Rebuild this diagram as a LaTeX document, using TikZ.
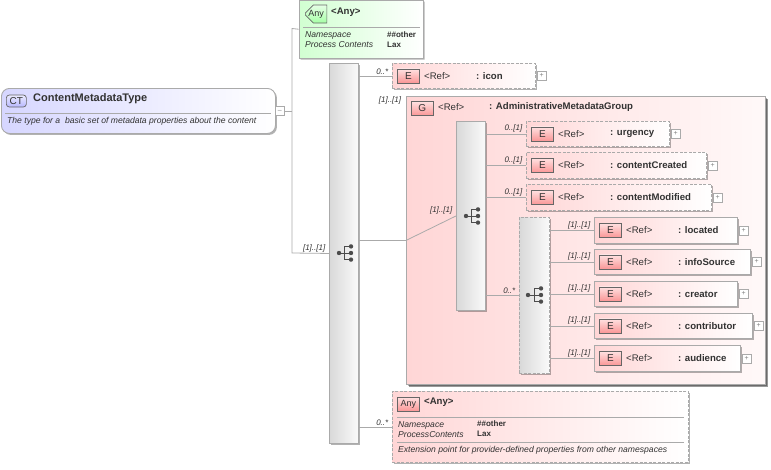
\documentclass[tikz,border=0pt]{standalone}
\usepackage{fontspec}
\setmainfont{Liberation Sans}
\usetikzlibrary{positioning,shadows,shapes.misc}

\newcommand{\Small}{\fontsize{8.6}{10}\selectfont}
\newcommand{\Tiny}{\fontsize{8}{9}\selectfont}
\newcommand{\Head}{\fontsize{9.6}{11}\selectfont}

\definecolor{textgray}{RGB}{50,50,50}
\definecolor{linegray}{RGB}{170,170,170}
\definecolor{pinkbox}{RGB}{255,214,214}
\definecolor{pinkicon}{RGB}{250,150,150}

\tikzset{
  conn/.style={draw=linegray, line width=0.8pt},
  boxshadow/.style={drop shadow={shadow xshift=1.5pt, shadow yshift=-1.5pt, fill=black, opacity=0.3}},
  plainbox/.style={draw=linegray, line width=0.9pt, inner sep=0pt, anchor=north west, boxshadow},
  elembox/.style={plainbox, left color=pinkbox, right color=white},
  optbox/.style={elembox, dashed, dash pattern=on 3pt off 1.5pt},
  seqbox/.style={plainbox, left color=gray!30, right color=gray!4},
  txt/.style={inner sep=0pt, anchor=west, text=textgray},
  iconbox/.style={draw=black!60, line width=0.7pt, inner sep=0pt, anchor=west, top color=red!12, bottom color=pinkicon, text=textgray, font=\fontsize{10}{11}\selectfont, minimum width=22pt, minimum height=14pt},
  multlabel/.style={inner sep=0pt, text=textgray, font=\Tiny\itshape},
  togglebox/.style={draw=linegray, fill=white, line width=0.6pt, inner sep=0pt, minimum size=9pt, anchor=west, text=gray, font=\fontsize{7}{7}\selectfont},
  seqdot/.style={circle, fill=black!70, inner sep=0pt, minimum size=4.4pt},
}

% #1 style, #2 name, #3 x, #4 y, #5 width, #6 height, #7 label, #8 multiplicity
\newcommand{\ElemBox}[8]{
  \node[#1, minimum width=#5pt, minimum height=#6pt] (#2) at (#3,#4) {};
  \node[iconbox, right=5pt of #2.west] (#2Icon) {E};
  \node[txt, font=\Head] (#2Ref) at ([xshift=32pt]#2.west) {<Ref>};
  \node[txt, font=\Head\bfseries] (#2Name) at ([xshift=84pt]#2.west) {: #7};
  \node[togglebox, right=1pt of #2.east] (#2Plus) {+};
  \node[multlabel, above left=1.5pt and 3.5pt of #2.west] (#2Mult) {#8};
}
% #1 name, #2 first dot x, #3 y, #4 last dot x
\newcommand{\SeqIcon}[4]{
  \node[seqdot] (#1In) at (#2,#3) {};
  \node[seqdot] (#1Mid) at (#4,#3) {};
  \node[seqdot, above=1.8pt of #1Mid] (#1Up) {};
  \node[seqdot, below=1.8pt of #1Mid] (#1Dn) {};
  \coordinate (#1Bar) at (#4-6.5,#3);
  \draw[black!70, line width=0.8pt] (#1In) -- (#1Mid) (#1Up) -| (#1Bar) (#1Dn) -| (#1Bar);
}

\begin{document}
\begin{tikzpicture}[x=1pt,y=-1pt]
\useasboundingbox (0,0) rectangle (771,469);

% complex type
\node[plainbox, rounded corners=8pt, left color=blue!16, right color=white, minimum width=274pt, minimum height=45pt] (ctBox) at (1,88) {};
\node[iconbox, rounded corners=3pt, top color=blue!8, bottom color=blue!28, minimum width=20pt, minimum height=12pt] (ctIcon) at (6,101) {CT};
\node[txt, font=\fontsize{11}{13}\selectfont\bfseries] (ctName) at (33,99) {ContentMetadataType};
\draw[conn] (5,113) -- (271,113);
\node[txt, font=\Small\itshape] (ctDesc) at (7,121) {The type for a\ \ basic set of metadata properties about the content};
\node[togglebox] (ctMinus) at (275,111) {--};

% any on top
\node[plainbox, chamfered rectangle, chamfered rectangle xsep=5pt, chamfered rectangle ysep=5pt, left color=green!18, right color=white, minimum width=124pt, minimum height=58pt, anchor=north west] (anyTop) at (299,0) {};
\node[iconbox, chamfered rectangle, chamfered rectangle xsep=3pt, chamfered rectangle ysep=5pt, chamfered rectangle corners={north west,south west}, top color=green!10, bottom color=green!35, minimum width=20pt, minimum height=12pt, font=\fontsize{9}{10}\selectfont] (anyTopIcon) at (305,14) {Any};
\node[txt, font=\Head\bfseries] (anyTopName) at (331,12) {<Any>};
\draw[conn] (303,27) -- (420,27);
\node[txt, font=\Small\itshape] (anyTopNs) at (305,35) {Namespace};
\node[txt, font=\Small\itshape] (anyTopPc) at (305,45) {Process Contents};
\node[txt, font=\Tiny\bfseries] (anyTopNsVal) at (387,35) {\#\#other};
\node[txt, font=\Tiny\bfseries] (anyTopPcVal) at (387,45) {Lax};

% outer sequence
\node[seqbox, minimum width=29pt, minimum height=380pt] (seqA) at (329,63) {};
\SeqIcon{iconA}{339}{253}{351}

\ElemBox{optbox}{elIcon}{392}{63}{143}{25}{icon}{0..*}

% group
\node[plainbox, left color=pinkbox, right color=pinkbox!15, minimum width=359pt, minimum height=288pt, drop shadow={shadow xshift=2.5pt, shadow yshift=-2.5pt, fill=black, opacity=0.4}] (grp) at (406,96) {};
\node[iconbox, right=5pt of grp.north west, yshift=-12.5pt] (grpIcon) {G};
\node[txt, font=\Head] (grpRef) at (438,107) {<Ref>};
\node[txt, font=\Head\bfseries] (grpName) at (489,107) {: AdministrativeMetadataGroup};
\node[multlabel] (grpMult) at (390,100) {[1]..[1]};

\node[seqbox, minimum width=29pt, minimum height=189pt] (seqB) at (456,121) {};
\SeqIcon{iconB}{466}{216}{478}
\node[multlabel, above left=1.5pt and 3.5pt of seqB.west] (seqBMult) {[1]..[1]};

\ElemBox{optbox}{elUrgency}{526}{121}{143}{25}{urgency}{0..[1]}
\ElemBox{optbox}{elCreated}{526}{152}{180}{26}{contentCreated}{0..[1]}
\ElemBox{optbox}{elModified}{526}{184}{185}{26}{contentModified}{0..[1]}

\node[seqbox, dashed, dash pattern=on 3pt off 1.5pt, minimum width=30pt, minimum height=156pt] (seqC) at (519,217) {};
\SeqIcon{iconC}{528}{295}{541}
\node[multlabel, above left=1.5pt and 3.5pt of seqC.west] (seqCMult) {0..*};

\ElemBox{elembox}{elLocated}{594}{217}{143}{26}{located}{[1]..[1]}
\ElemBox{elembox}{elInfo}{594}{249}{156}{25}{infoSource}{[1]..[1]}
\ElemBox{elembox}{elCreator}{594}{281}{143}{25}{creator}{[1]..[1]}
\ElemBox{elembox}{elContrib}{594}{313}{158}{25}{contributor}{[1]..[1]}
\ElemBox{elembox}{elAudience}{594}{345}{146}{26}{audience}{[1]..[1]}

% any at the bottom
\node[optbox, minimum width=296pt, minimum height=71pt] (anyBot) at (392,391) {};
\node[iconbox, minimum width=22pt, minimum height=14pt, font=\fontsize{9}{10}\selectfont] (anyBotIcon) at (397,404) {Any};
\node[txt, font=\Head\bfseries] (anyBotName) at (424,402) {<Any>};
\draw[conn] (397,417) -- (684,417);
\node[txt, font=\Small\itshape] (anyBotNs) at (398,425) {Namespace};
\node[txt, font=\Small\itshape] (anyBotPc) at (398,435) {ProcessContents};
\node[txt, font=\Tiny\bfseries] (anyBotNsVal) at (477,424) {\#\#other};
\node[txt, font=\Tiny\bfseries] (anyBotPcVal) at (477,434) {Lax};
\draw[conn] (397,442) -- (684,442);
\node[txt, font=\Small\itshape] (anyBotDesc) at (398,450) {Extension point for provider-defined properties from other namespaces};
\node[multlabel, above left=1.5pt and 3.5pt of anyBot.west] (anyBotMult) {0..*};

% connectors
\coordinate (busTop) at (292,28.5);
\coordinate (busBot) at (292,253);
\draw[conn] (ctMinus.east) -- (ctMinus.east -| busTop);
\draw[conn] (anyTop.west) -- (busTop) -- (busBot) -- (seqA.west);
\node[multlabel, above left=1.5pt and 3.5pt of seqA.west] (seqAMult) {[1]..[1]};
\draw[conn] (seqA.east |- elIcon.west) -- (elIcon.west);
\draw[conn] (seqA.east |- grp.west) -- (grp.west);
\draw[conn] (seqA.east |- anyBot.west) -- (anyBot.west);
\draw[conn] (grp.west) -- (seqB.west);
\draw[conn] (seqB.east |- elUrgency.west) -- (elUrgency.west);
\draw[conn] (seqB.east |- elCreated.west) -- (elCreated.west);
\draw[conn] (seqB.east |- elModified.west) -- (elModified.west);
\draw[conn] (seqB.east |- seqC.west) -- (seqC.west);
\draw[conn] (seqC.east |- elLocated.west) -- (elLocated.west);
\draw[conn] (seqC.east |- elInfo.west) -- (elInfo.west);
\draw[conn] (seqC.east |- elCreator.west) -- (elCreator.west);
\draw[conn] (seqC.east |- elContrib.west) -- (elContrib.west);
\draw[conn] (seqC.east |- elAudience.west) -- (elAudience.west);

\end{tikzpicture}
\end{document}
